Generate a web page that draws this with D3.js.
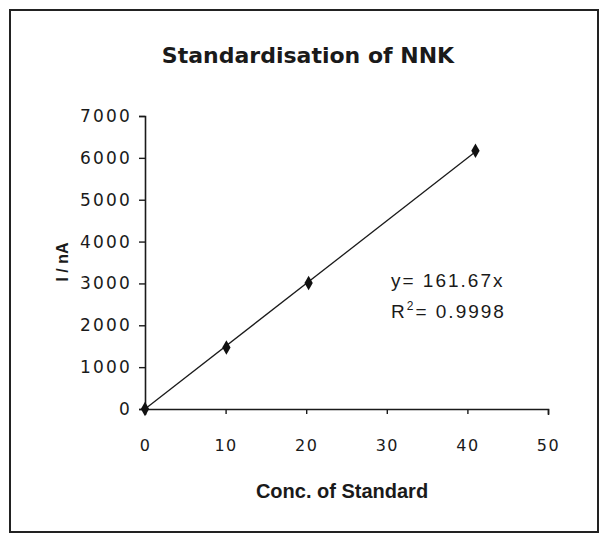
<!DOCTYPE html>
<html>
<head>
<meta charset="utf-8">
<script src="https://cdn.jsdelivr.net/npm/d3@7"></script>
<style>
  html, body { margin: 0; padding: 0; background: #fff; }
  svg { display: block; }
</style>
</head>
<body>
<svg id="chart" width="605" height="542"></svg>
<script>
// ---- data ----
const concentrations = [0, 10.1, 20.3, 41];
const currents = [0, 1470, 3010, 6170];
const xTicks = [0, 10, 20, 30, 40, 50];
const yTicks = [0, 1000, 2000, 3000, 4000, 5000, 6000, 7000];
const titleText = "Standardisation of NNK";
const xTitle = "Conc. of Standard";
const yTitle = "I / nA";
const eqText = "y= 161.67x";
const r2Value = "= 0.9998";

const svg = d3.select("#chart");
const ink = "#1a1a1a";

// outer frame
svg.append("rect")
  .attr("x", 10).attr("y", 10).attr("width", 588).attr("height", 522)
  .attr("fill", "#fff").attr("stroke", "#222").attr("stroke-width", 2);

const x = d3.scaleLinear().domain([0, 50]).range([145, 548]);
const y = d3.scaleLinear().domain([0, 7000]).range([409, 116]);

// title
svg.append("text")
  .attr("x", 308).attr("y", 63)
  .attr("text-anchor", "middle")
  .attr("font-family", "DejaVu Sans, Verdana, sans-serif")
  .attr("font-weight", "bold")
  .attr("font-size", 22)
  .attr("fill", ink)
  .text(titleText);

// y axis
const yAxis = svg.append("g")
  .attr("transform", `translate(${x(0)},0)`)
  .call(d3.axisLeft(y).tickValues(yTicks).tickSize(6).tickSizeOuter(6).tickPadding(7).tickFormat(d3.format("d")));
yAxis.select(".domain").attr("stroke", ink).attr("stroke-width", 1.6);
yAxis.selectAll(".tick line").attr("stroke", ink).attr("stroke-width", 1.4);
yAxis.selectAll(".tick text")
  .attr("font-family", "DejaVu Sans, Verdana, sans-serif")
  .attr("font-size", 17)
  .attr("letter-spacing", 2.2)
  .attr("fill", ink);

// x axis
const xAxis = svg.append("g")
  .attr("transform", `translate(0,${y(0)})`)
  .call(d3.axisBottom(x).tickValues(xTicks).tickSize(5).tickSizeOuter(6).tickPadding(26).tickFormat(d3.format("d")));
xAxis.select(".domain").attr("stroke", ink).attr("stroke-width", 1.6);
xAxis.selectAll(".tick line").attr("stroke", ink).attr("stroke-width", 1.4);
xAxis.selectAll(".tick text")
  .attr("font-family", "DejaVu Sans, Verdana, sans-serif")
  .attr("font-size", 16)
  .attr("letter-spacing", 1.5)
  .attr("fill", ink);

// axis titles
svg.append("text")
  .attr("x", 342).attr("y", 498)
  .attr("text-anchor", "middle")
  .attr("font-family", "Liberation Sans, Arial, sans-serif")
  .attr("font-weight", "bold")
  .attr("font-size", 20)
  .attr("fill", ink)
  .text(xTitle);

svg.append("text")
  .attr("transform", `translate(68,262) rotate(-90)`)
  .attr("text-anchor", "middle")
  .attr("font-family", "Liberation Sans, Arial, sans-serif")
  .attr("font-weight", "bold")
  .attr("font-size", 16)
  .attr("fill", ink)
  .text(yTitle);

// trendline (least squares through origin)
const pts = concentrations.map((c, i) => ({ c, v: currents[i] }));
const slope = d3.sum(pts, p => p.c * p.v) / d3.sum(pts, p => p.c * p.c);
const xMax = d3.max(concentrations);
svg.append("line")
  .attr("x1", x(0)).attr("y1", y(0))
  .attr("x2", x(xMax)).attr("y2", y(slope * xMax))
  .attr("stroke", ink).attr("stroke-width", 1.3);

// markers
svg.selectAll("path.pt")
  .data(pts)
  .enter().append("path")
  .attr("class", "pt")
  .attr("transform", d => `translate(${x(d.c)},${y(d.v)})`)
  .attr("d", d3.symbol().type(d3.symbolDiamond).size(60))
  .attr("fill", "#111");

// equation
const eq = svg.append("text")
  .attr("font-family", "Liberation Sans, Arial, sans-serif")
  .attr("font-size", 19)
  .attr("letter-spacing", 2)
  .attr("fill", ink);
eq.append("tspan").attr("x", 391).attr("y", 287).text(eqText);
const r2 = svg.append("text")
  .attr("x", 391).attr("y", 318)
  .attr("font-family", "Liberation Sans, Arial, sans-serif")
  .attr("font-size", 19)
  .attr("letter-spacing", 2)
  .attr("fill", ink);
r2.append("tspan").text("R");
r2.append("tspan").attr("dy", -8).attr("font-size", 12).text("2");
r2.append("tspan").attr("dy", 8).text(r2Value);
</script>
</body>
</html>
